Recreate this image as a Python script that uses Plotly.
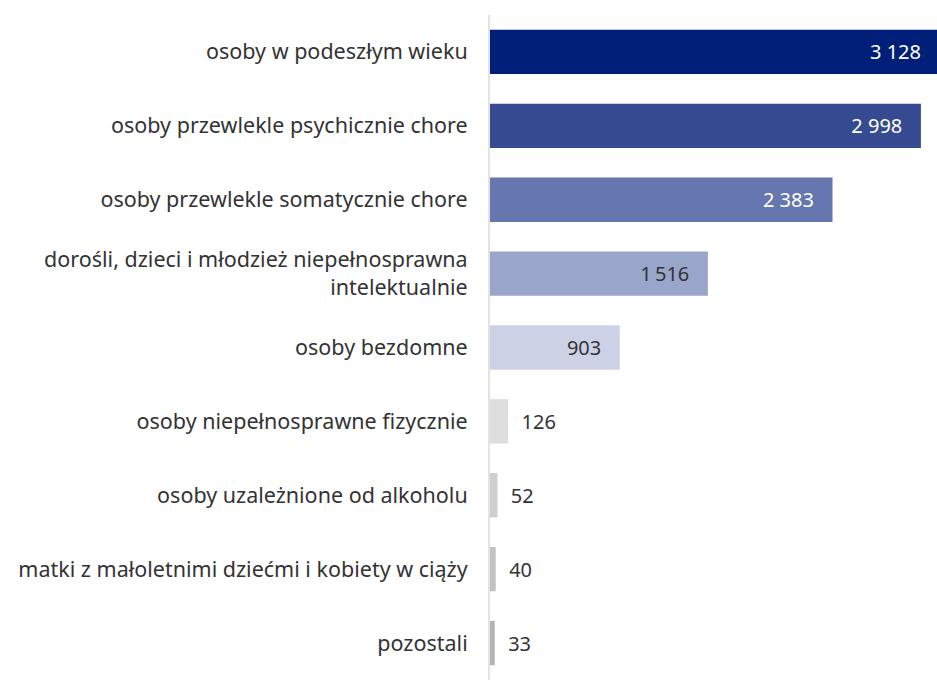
import plotly.graph_objects as go

categories = [
    "osoby w podeszłym wieku",
    "osoby przewlekle psychicznie chore",
    "osoby przewlekle somatycznie chore",
    "dorośli, dzieci i młodzież niepełnosprawna<br>intelektualnie",
    "osoby bezdomne",
    "osoby niepełnosprawne fizycznie",
    "osoby uzależnione od alkoholu",
    "matki z małoletnimi dziećmi i kobiety w ciąży",
    "pozostali",
]
values = [3128, 2998, 2383, 1516, 903, 126, 52, 40, 33]
bar_colors = ["#001f78", "#364a92", "#6676ae", "#99a5cb", "#ccd1e5",
              "#dcdddc", "#cfcfcf", "#c3c3c3", "#b3b3b3"]
inside = [True, True, True, True, True, False, False, False, False]
text_colors = ["#ffffff", "#ffffff", "#ffffff", "#333333", "#333333",
               "#333333", "#333333", "#333333", "#333333"]

def fmt(v):
    return f"{v:,}".replace(",", "\u2009" if v < 2000 else " ")

texts = [(fmt(v) + "\u00a0\u00a0\u00a0") if ins else ("\u00a0\u00a0" + fmt(v))
         for v, ins in zip(values, inside)]

FONT = "Noto Sans"

fig = go.Figure(go.Bar(
    x=values,
    y=categories,
    orientation="h",
    marker=dict(color=bar_colors, line=dict(width=0)),
    text=texts,
    textposition=["inside" if i else "outside" for i in inside],
    insidetextanchor="end",
    textfont=dict(color=text_colors, size=20, family=FONT),
    outsidetextfont=dict(color="#333333", size=20, family=FONT),
    insidetextfont=dict(color=text_colors, size=20, family=FONT),
    width=0.6,
    cliponaxis=True,
    hoverinfo="skip",
))

fig.update_layout(
    width=937,
    height=680,
    margin=dict(l=490, r=0, t=15, b=0),
    plot_bgcolor="white",
    paper_bgcolor="white",
    showlegend=False,
    font=dict(family=FONT, size=22, color="#333333"),
    uniformtext=dict(mode=False),
    xaxis=dict(range=[0, 3110], showgrid=False, zeroline=False,
               showticklabels=False, showline=False, fixedrange=True),
    yaxis=dict(autorange="reversed", showgrid=False, zeroline=False,
               showline=True, linecolor="#e3e3e3", linewidth=2,
               ticks="", ticklabelstandoff=16, fixedrange=True,
               tickfont=dict(size=21.5, color="#333333", family=FONT)),
)

fig.write_html(
    "out.html",
    config={"displayModeBar": False},
    post_script="document.body.style.margin='0';document.body.style.overflow='hidden';",
)
